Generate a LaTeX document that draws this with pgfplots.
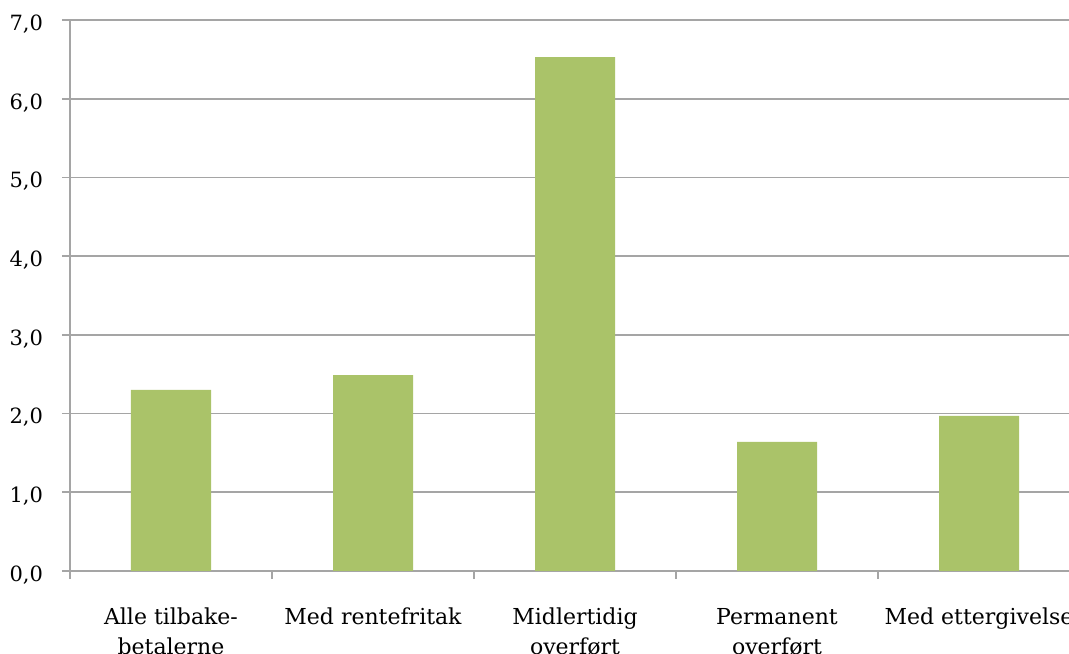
\documentclass[border=0pt]{standalone}
\usepackage{fontspec}
\setmainfont{DejaVu Serif}
\usepackage{pgfplots}
\pgfplotsset{compat=1.18}
\definecolor{barfill}{RGB}{170,195,105}
\definecolor{gridgray}{RGB}{165,165,165}
\begin{document}
\fontsize{10bp}{13bp}\selectfont
\begin{tikzpicture}
\clip (0,0) rectangle (534.5bp,327bp);
\begin{axis}[
  at={(35bp,41.5bp)}, anchor=south west,
  scale only axis,
  width=505bp, height=275.5bp,
  xmin=-0.5, xmax=4.5,
  ymin=0, ymax=7,
  axis lines*=left,
  axis line style={gridgray, line width=0.9bp},
  ytick={0,1,...,7},
  ymajorgrids=true,
  grid style={gridgray, line width=0.9bp},
  xtick={0,1,2,3,4},
  xticklabels={{Alle tilbake-\\betalerne},{Med rentefritak},{Midlertidig\\overført},{Permanent\\overført},{Med ettergivelse}},
  major x tick style={draw=none},
  minor xtick={-0.5,0.5,1.5,2.5,3.5,4.5},
  minor x tick style={gridgray, line width=0.9bp},
  minor tick length=4bp,
  major tick length=4bp,
  tick align=outside,
  y tick style={gridgray, line width=0.9bp},
  xticklabel style={align=center, yshift=-11bp, font=\fontsize{11bp}{15bp}\selectfont},
  yticklabel style={xshift=-6bp, yshift=-2bp, font=\fontsize{10.5bp}{13bp}\selectfont},
  /pgf/number format/.cd, use comma, fixed, fixed zerofill, precision=1, assume math mode=true,
]
\addplot[ybar, bar width=40bp, fill=barfill, draw=none]
  coordinates {(0,2.30) (1,2.49) (2,6.53) (3,1.64) (4,1.97)};
\end{axis}
\end{tikzpicture}
\end{document}
